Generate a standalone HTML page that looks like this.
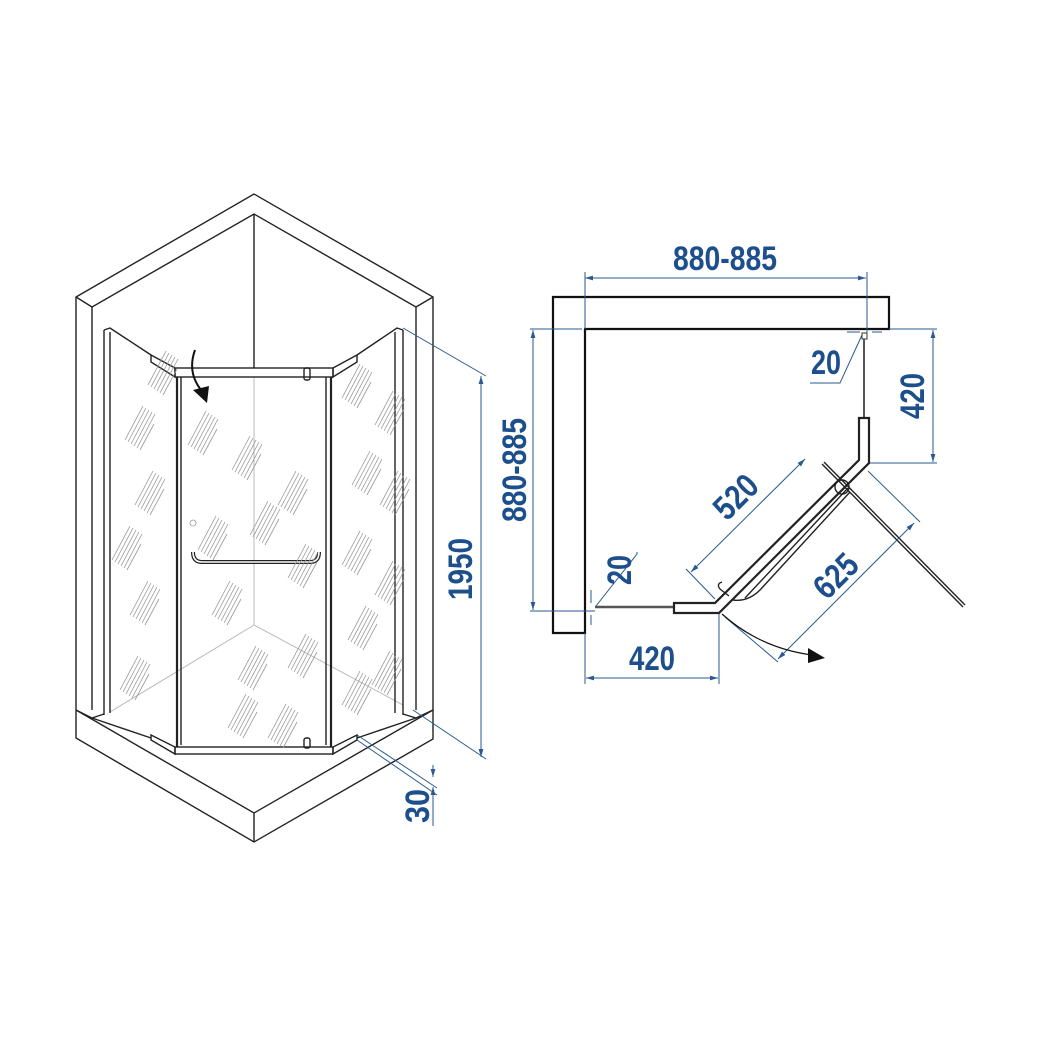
<!DOCTYPE html>
<html><head><meta charset="utf-8"><style>
html,body{margin:0;padding:0;background:#fff}
svg{display:block}
.b{fill:none;stroke:#222;stroke-width:1.4}
.t{fill:none;stroke:#222;stroke-width:2.2}
.g{fill:none;stroke:#bbb;stroke-width:1}
.h{fill:none;stroke:#999;stroke-width:0.8}
.d{fill:none;stroke:#2a5a8f;stroke-width:1}
.n{fill:#1d4f8c;font-family:"Liberation Sans",sans-serif;font-weight:bold;font-size:34px}
</style></head><body>
<svg width="1040" height="1040" viewBox="0 0 1040 1040" xmlns="http://www.w3.org/2000/svg">
<defs>
<marker id="a" viewBox="0 0 10 10" refX="10" refY="5" markerWidth="12" markerHeight="8" orient="auto-start-reverse" markerUnits="userSpaceOnUse"><path d="M0,2 L10,5 L0,8 Z" fill="#2a5a8f"/></marker>
<g id="hs"><path class="h" d="M0,0 l18,-34 M3,2 l18,-34 M6,4 l18,-34 M9,6 l18,-34 M12,8 l18,-34 M15,10 l14,-26"/></g>
</defs>
<!-- LEFT: walls -->
<path class="b" d="M76,297 L254,194 L433,297 L433,739 L254,842 L76,738 Z"/>
<path class="b" d="M92,710 L92,307 L254,214 L416,307 L416,710"/>
<path class="b" d="M76,297 L92,307 M433,297 L416,307"/>
<path class="b" d="M254,214 L254,368"/>
<path class="b" d="M76,710 L254,813 L433,710 M254,813 L254,842"/>
<path class="b" d="M76,710 L92,718 L104,714 M433,710 L416,718 L403,714 M92,718 L151,738 M416,718 L357,738"/>
<path class="g" d="M254,377 L254,625 L110,712 M254,625 L403,705"/>
<!-- frames -->
<path class="b" d="M104,330 L104,715 M110,332 L110,713 M395,332 L395,713 M403,330 L403,715"/>
<path class="b" d="M104,330 L110,328 L151,355 M403,330 L397,328 L357,355"/>
<path class="b" d="M151,355 L151,362 L175,377 L175,368 Z M151,355 L175,368 M357,355 L357,362 L333,377 L333,368 Z M357,355 L333,368"/>
<rect class="b" x="175" y="368" width="158" height="9"/>
<path class="t" d="M177,377 L177,747 M331,377 L331,747"/>
<path class="b" d="M181,377 L181,745 M326,377 L326,745"/>
<rect class="b" x="175" y="747" width="158" height="7"/>
<path class="b" d="M151,735 L151,740 L175,754 L175,747 Z M357,735 L357,740 L333,754 L333,747 Z"/>
<rect class="b" x="304" y="368" width="6" height="12" rx="2"/>
<rect class="b" x="304" y="738" width="6" height="10" rx="2"/>
<path d="M193,552 q0,10 9,10 L310,562 q9,0 9,-10" fill="none" stroke="#222" stroke-width="4"/>
<path d="M193,552 q0,10 9,10 L310,562 q9,0 9,-10" fill="none" stroke="#fff" stroke-width="1.6"/>
<circle class="h" cx="193" cy="523" r="3"/>
<!-- arrow -->
<path d="M195,350 q-8,22 6,40" fill="none" stroke="#111" stroke-width="2"/>
<path d="M193,390 L209,386 L207,403 Z" fill="#111"/>
<!-- hatch -->
<use href="#hs" x="125" y="440"/><use href="#hs" x="135" y="505"/><use href="#hs" x="112" y="560"/><use href="#hs" x="130" y="615"/><use href="#hs" x="120" y="690"/><use href="#hs" x="148" y="385"/><use href="#hs" x="188" y="445"/><use href="#hs" x="232" y="470"/><use href="#hs" x="278" y="505"/><use href="#hs" x="198" y="550"/><use href="#hs" x="250" y="535"/><use href="#hs" x="288" y="578"/><use href="#hs" x="212" y="615"/><use href="#hs" x="238" y="680"/><use href="#hs" x="288" y="668"/><use href="#hs" x="228" y="728"/><use href="#hs" x="268" y="738"/><use href="#hs" x="342" y="398"/><use href="#hs" x="375" y="425"/><use href="#hs" x="352" y="485"/><use href="#hs" x="380" y="505"/><use href="#hs" x="342" y="565"/><use href="#hs" x="375" y="595"/><use href="#hs" x="348" y="640"/><use href="#hs" x="372" y="685"/><use href="#hs" x="342" y="705"/>
<!-- 1950 dim -->
<path class="d" d="M403,328 L486,376 M413,710 L486,759 M357,735 L437,788 M357,740 L437,795"/>
<path class="d" d="M481,376 L481,757" marker-start="url(#a)" marker-end="url(#a)"/>
<text class="n" transform="translate(472,569) rotate(-90)" text-anchor="middle" textLength="62" lengthAdjust="spacingAndGlyphs">1950</text>
<path class="d" d="M433,765 L433,777" marker-end="url(#a)"/>
<path class="d" d="M433,800 L433,790 M433,790 L433,787" marker-end="url(#a)"/>
<path class="d" d="M433,787 L433,826"/>
<text class="n" transform="translate(429,806) rotate(-90)" text-anchor="middle" textLength="34" lengthAdjust="spacingAndGlyphs">30</text>
<!-- RIGHT plan -->
<path d="M553,297 L889,297 L889,329 L585,329 L585,633 L553,633 Z" fill="none" stroke="#111" stroke-width="2.2"/>
<path class="d" d="M585,278 L866,278" marker-start="url(#a)" marker-end="url(#a)"/>
<path class="d" d="M585,272 L585,329 M867,272 L867,336"/>
<text class="n" x="725" y="270" text-anchor="middle" textLength="104" lengthAdjust="spacingAndGlyphs">880-885</text>
<path class="d" d="M530,329 L582,329 M530,611 L595,611"/>
<path class="d" d="M533,330 L533,610" marker-start="url(#a)" marker-end="url(#a)"/>
<text class="n" transform="translate(526,470) rotate(-90)" text-anchor="middle" textLength="104" lengthAdjust="spacingAndGlyphs">880-885</text>
<path class="d" d="M889,329 L937,329 M870,463 L937,463"/>
<path class="d" d="M933,330 L933,462" marker-start="url(#a)" marker-end="url(#a)"/>
<text class="n" transform="translate(924,396) rotate(-90)" text-anchor="middle" textLength="46" lengthAdjust="spacingAndGlyphs">420</text>
<path class="d" d="M585,633 L585,684 M719,614 L719,684"/>
<path class="d" d="M586,678 L718,678" marker-start="url(#a)" marker-end="url(#a)"/>
<text class="n" x="652" y="670" text-anchor="middle" textLength="46" lengthAdjust="spacingAndGlyphs">420</text>
<!-- 20 top -->
<path class="d" d="M847,332 L860,332 M882,332 L872,332 M810,383 L840,383 L862,335"/>
<text class="n" x="826" y="374" text-anchor="middle" textLength="30" lengthAdjust="spacingAndGlyphs">20</text>
<!-- 20 left -->
<path class="d" d="M591,590 L591,603 M591,625 L591,615 M596,606 L637,554 L637,552"/>
<text class="n" transform="translate(631,570) rotate(-90)" text-anchor="middle" textLength="30" lengthAdjust="spacingAndGlyphs">20</text>
<!-- panels -->
<rect x="862" y="333" width="5" height="6" fill="none" stroke="#333"/>
<path d="M864,339 L864,418" stroke="#555" stroke-width="2"/>
<path d="M595,607 L674,607" stroke="#555" stroke-width="2.4"/>
<path class="t" d="M859,418 L869,418 L869,463 L719,613 L674,613 L674,603 L715,603 L859,460 Z" stroke-width="1.8"/>
<path class="b" d="M733,600 Q748,602 760,590 L850,492 M745,598 L848,488"/>
<path class="b" d="M722,582 q-6,2 -2,7 L729,596"/>
<circle class="b" cx="842" cy="487" r="7"/>
<path class="b" d="M822,464 L963,607 M824,462 L965,605"/>
<!-- 520 625 -->
<path class="d" d="M691,572 L805,459" marker-start="url(#a)" marker-end="url(#a)"/>
<path class="d" d="M715,599 L686,569 M868,471 L920,522 M725,617 L778,662"/>
<path class="d" d="M778,659 L914,523" marker-start="url(#a)" marker-end="url(#a)"/>
<text class="n" transform="translate(744,505) rotate(-45)" text-anchor="middle" textLength="48" lengthAdjust="spacingAndGlyphs">520</text>
<text class="n" transform="translate(844,584) rotate(-45)" text-anchor="middle" textLength="48" lengthAdjust="spacingAndGlyphs">625</text>
<!-- swing -->
<path d="M722,614 Q760,648 812,655" fill="none" stroke="#111" stroke-width="1.2"/>
<path d="M808,648 L825,658 L808,663 Z" fill="#111"/>
</svg>
</body></html>
